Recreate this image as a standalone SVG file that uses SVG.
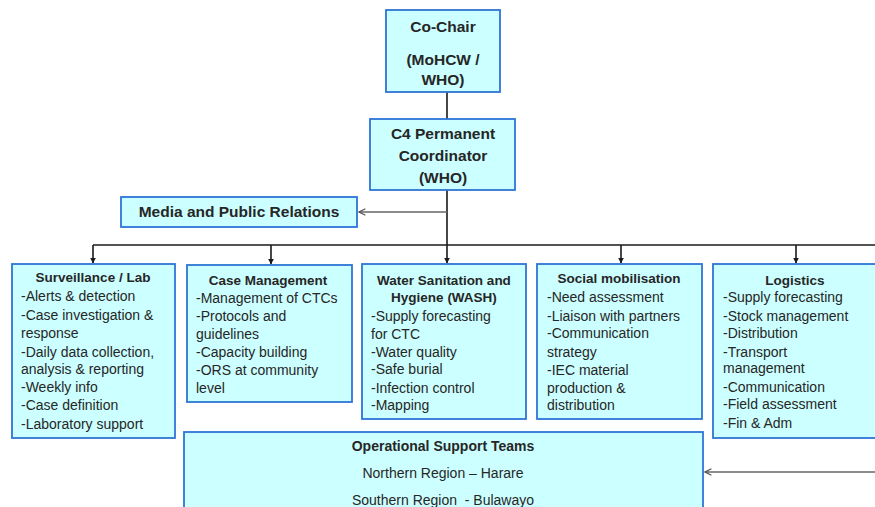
<svg xmlns="http://www.w3.org/2000/svg" width="875" height="507" viewBox="0 0 875 507">
<style>
.box{fill:#CCFFFF;stroke:#2E75D6;stroke-width:1.8}
text{font-family:"Liberation Sans",Arial,sans-serif;fill:#262626}
.big{font-size:15.5px;font-weight:bold}
.ttl{font-size:13.5px;font-weight:bold}
.itm{font-size:14px}
.sm{font-size:14px}
.smb{font-size:14px;font-weight:bold}
.c{text-anchor:middle}
.ln{stroke:#1a1a1a;stroke-width:1.6;fill:none}
.gl{stroke:#666;stroke-width:1.6;fill:none}
</style>
<defs>
<marker id="ah" viewBox="0 0 10 10" refX="9" refY="5" markerWidth="6" markerHeight="6" orient="auto" markerUnits="userSpaceOnUse"><path d="M0,0 L10,5 L0,10 z" fill="#1a1a1a"/></marker>
<marker id="oh" viewBox="0 0 10 10" refX="9" refY="5" markerWidth="8" markerHeight="8" orient="auto" markerUnits="userSpaceOnUse"><path d="M1,1 L9,5 L1,9" fill="none" stroke="#555" stroke-width="1.6"/></marker>
</defs>
<g id="connectors">
<line class="ln" x1="447" y1="92" x2="447" y2="119"/>
<line class="ln" x1="447" y1="190" x2="447" y2="245"/>
<line class="gl" x1="447" y1="212" x2="359" y2="212" marker-end="url(#oh)"/>
<line class="ln" x1="93" y1="245" x2="875" y2="245"/>
<line class="ln" x1="93" y1="245" x2="93" y2="263" marker-end="url(#ah)"/>
<line class="ln" x1="271" y1="245" x2="271" y2="264" marker-end="url(#ah)"/>
<line class="ln" x1="447" y1="245" x2="447" y2="263" marker-end="url(#ah)"/>
<line class="ln" x1="621" y1="245" x2="621" y2="263" marker-end="url(#ah)"/>
<line class="ln" x1="796" y1="245" x2="796" y2="263" marker-end="url(#ah)"/>
<line class="gl" x1="875" y1="472" x2="705" y2="472" marker-end="url(#oh)"/>
</g>
<g id="cochair">
<rect class="box" x="386" y="10" width="114" height="82"/>
<text class="big c" x="443" y="32">Co-Chair</text>
<text class="big c" x="443" y="65">(MoHCW /</text>
<text class="big c" x="443" y="85">WHO)</text>
</g>
<g id="coordinator">
<rect class="box" x="370" y="119" width="145" height="71"/>
<text class="big c" x="443" y="139">C4 Permanent</text>
<text class="big c" x="443" y="161">Coordinator</text>
<text class="big c" x="443" y="183">(WHO)</text>
</g>
<g id="media">
<rect class="box" x="121" y="197" width="236" height="30"/>
<text class="big c" x="239" y="217">Media and Public Relations</text>
</g>
<g id="surveillance">
<rect class="box" x="12" y="264" width="163" height="174"/>
<text class="ttl c" x="93" y="282">Surveillance / Lab</text>
<text class="itm" x="21" y="301">-Alerts &amp; detection</text>
<text class="itm" x="21" y="320">-Case investigation &amp;</text>
<text class="itm" x="21" y="338">response</text>
<text class="itm" x="21" y="357">-Daily data collection,</text>
<text class="itm" x="21" y="374">analysis &amp; reporting</text>
<text class="itm" x="21" y="392">-Weekly info</text>
<text class="itm" x="21" y="410">-Case definition</text>
<text class="itm" x="21" y="429">-Laboratory support</text>
</g>
<g id="casemgmt">
<rect class="box" x="187" y="265" width="165" height="137"/>
<text class="ttl c" x="268" y="285">Case Management</text>
<text class="itm" x="196" y="303">-Management of CTCs</text>
<text class="itm" x="196" y="321">-Protocols and</text>
<text class="itm" x="196" y="339">guidelines</text>
<text class="itm" x="196" y="357">-Capacity building</text>
<text class="itm" x="196" y="375">-ORS at community</text>
<text class="itm" x="196" y="393">level</text>
</g>
<g id="wash">
<rect class="box" x="362" y="264" width="164" height="155"/>
<text class="ttl c" x="444" y="285">Water Sanitation and</text>
<text class="ttl c" x="444" y="302">Hygiene (WASH)</text>
<text class="itm" x="371" y="321">-Supply forecasting</text>
<text class="itm" x="371" y="339">for CTC</text>
<text class="itm" x="371" y="357">-Water quality</text>
<text class="itm" x="371" y="374">-Safe burial</text>
<text class="itm" x="371" y="393">-Infection control</text>
<text class="itm" x="371" y="410">-Mapping</text>
</g>
<g id="social">
<rect class="box" x="537" y="264" width="165" height="155"/>
<text class="ttl c" x="619" y="283">Social mobilisation</text>
<text class="itm" x="547" y="302">-Need assessment</text>
<text class="itm" x="547" y="321">-Liaison with partners</text>
<text class="itm" x="547" y="338">-Communication</text>
<text class="itm" x="547" y="357">strategy</text>
<text class="itm" x="547" y="375">-IEC material</text>
<text class="itm" x="547" y="393">production &amp;</text>
<text class="itm" x="547" y="410">distribution</text>
</g>
<g id="logistics">
<rect class="box" x="713" y="264" width="170" height="174"/>
<text class="ttl c" x="795" y="285">Logistics</text>
<text class="itm" x="723" y="302">-Supply forecasting</text>
<text class="itm" x="723" y="321">-Stock management</text>
<text class="itm" x="723" y="338">-Distribution</text>
<text class="itm" x="723" y="357">-Transport</text>
<text class="itm" x="723" y="373">management</text>
<text class="itm" x="723" y="392">-Communication</text>
<text class="itm" x="723" y="409">-Field assessment</text>
<text class="itm" x="723" y="428">-Fin &amp; Adm</text>
</g>
<g id="ops">
<rect class="box" x="184" y="432" width="519" height="90"/>
<text class="smb c" x="443" y="451">Operational Support Teams</text>
<text class="sm c" x="443" y="478">Northern Region – Harare</text>
<text class="sm c" x="443" y="505" xml:space="preserve">Southern Region  - Bulawayo</text>
</g>
</svg>
